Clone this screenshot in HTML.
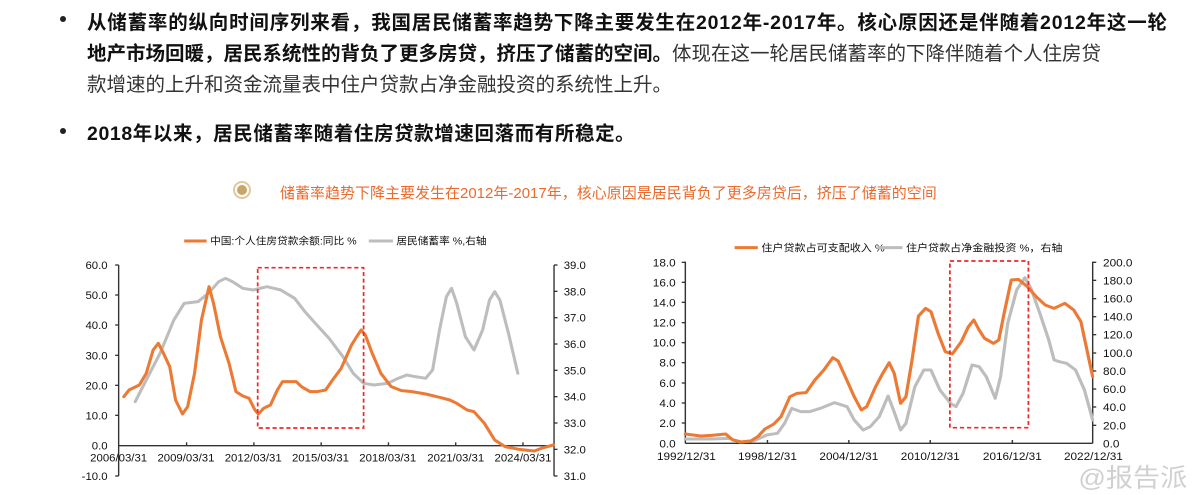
<!DOCTYPE html>
<html><head><meta charset="utf-8"><style>
body{margin:0;width:1200px;height:495px;background:#fff;overflow:hidden;position:relative;font-family:"Liberation Sans","Noto Sans CJK SC",sans-serif;}
.t{position:absolute;white-space:nowrap;font-size:19.5px;color:#111;}
.b{font-weight:bold;}
.dot{position:absolute;left:60px;width:6px;height:6px;border-radius:50%;background:#222;}
</style></head><body>
<div class="dot" style="top:16px"></div>
<div class="t b" style="left:87px;top:6px;letter-spacing:0.8px">从储蓄率的纵向时间序列来看，我国居民储蓄率趋势下降主要发生在2012年-2017年。核心原因还是伴随着2012年这一轮</div>
<div class="t" style="left:87px;top:37px"><b>地产市场回暖，居民系统性的背负了更多房贷，挤压了储蓄的空间。</b><span style="color:#333">体现在这一轮居民储蓄率的下降伴随着个人住房贷</span></div>
<div class="t" style="left:87px;top:68px;color:#333">款增速的上升和资金流量表中住户贷款占净金融投资的系统性上升。</div>
<div class="dot" style="top:128px"></div>
<div class="t b" style="left:87px;top:117px;letter-spacing:0.6px">2018年以来，居民储蓄率随着住房贷款增速回落而有所稳定。</div>
<div style="position:absolute;left:233px;top:181px;width:18px;height:18px;border-radius:50%;border:2px solid #e3c89a;box-sizing:border-box"></div>
<div style="position:absolute;left:237px;top:185px;width:10px;height:10px;border-radius:50%;background:#c9a56a"></div>
<div class="t" style="left:280px;top:182px;font-size:15px;color:#ec6a2c">储蓄率趋势下降主要发生在2012年-2017年，核心原因是居民背负了更多房贷后，挤压了储蓄的空间</div>

<svg width="1200" height="495" style="position:absolute;left:0;top:0" font-family="Liberation Sans, Noto Sans CJK SC, sans-serif">
<g transform="translate(60,220) scale(0.345,0.33333)" font-size="33" fill="#111">
 <line x1="170" y1="135" x2="170" y2="768" stroke="#333" stroke-width="4"/>
 <line x1="1432" y1="135" x2="1432" y2="768" stroke="#333" stroke-width="4"/>
 <line x1="170" y1="677" x2="1432" y2="677" stroke="#333" stroke-width="4"/>
 <g stroke="#333" stroke-width="4">
  <line x1="160" y1="135" x2="170" y2="135"/><line x1="160" y1="225" x2="170" y2="225"/><line x1="160" y1="315" x2="170" y2="315"/><line x1="160" y1="406" x2="170" y2="406"/><line x1="160" y1="496" x2="170" y2="496"/><line x1="160" y1="586" x2="170" y2="586"/><line x1="160" y1="768" x2="170" y2="768"/>
  <line x1="1432" y1="135" x2="1442" y2="135"/><line x1="1432" y1="214" x2="1442" y2="214"/><line x1="1432" y1="293" x2="1442" y2="293"/><line x1="1432" y1="372" x2="1442" y2="372"/><line x1="1432" y1="451" x2="1442" y2="451"/><line x1="1432" y1="530" x2="1442" y2="530"/><line x1="1432" y1="609" x2="1442" y2="609"/><line x1="1432" y1="688" x2="1442" y2="688"/><line x1="1432" y1="768" x2="1442" y2="768"/>
  <line x1="367" y1="667" x2="367" y2="677"/><line x1="562" y1="667" x2="562" y2="677"/><line x1="757" y1="667" x2="757" y2="677"/><line x1="952" y1="667" x2="952" y2="677"/><line x1="1147" y1="667" x2="1147" y2="677"/><line x1="1342" y1="667" x2="1342" y2="677"/>
 </g>
 <g text-anchor="end">
  <text x="138" y="147">60.0</text><text x="138" y="237">50.0</text><text x="138" y="327">40.0</text><text x="138" y="418">30.0</text><text x="138" y="508">20.0</text><text x="138" y="598">10.0</text><text x="138" y="689">0.0</text><text x="138" y="780">-10.0</text>
 </g>
 <g>
  <text x="1460" y="147">39.0</text><text x="1460" y="226">38.0</text><text x="1460" y="305">37.0</text><text x="1460" y="384">36.0</text><text x="1460" y="463">35.0</text><text x="1460" y="542">34.0</text><text x="1460" y="621">33.0</text><text x="1460" y="700">32.0</text><text x="1460" y="780">31.0</text>
 </g>
 <g text-anchor="middle">
  <text x="170" y="725">2006/03/31</text><text x="365" y="725">2009/03/31</text><text x="560" y="725">2012/03/31</text><text x="755" y="725">2015/03/31</text><text x="950" y="725">2018/03/31</text><text x="1147" y="725">2021/03/31</text><text x="1342" y="725">2024/03/31</text>
 </g>
 <line x1="360" y1="63" x2="425" y2="63" stroke="#ec7a35" stroke-width="9"/>
 <text x="435" y="74" font-size="31">中国:个人住房贷款余额:同比 %</text>
 <line x1="895" y1="63" x2="965" y2="63" stroke="#bdbdbd" stroke-width="9"/>
 <text x="975" y="74" font-size="31">居民储蓄率 %,右轴</text>
 <polyline fill="none" stroke="#bdbdbd" stroke-width="9" stroke-linejoin="round" stroke-linecap="round" points="218,545 250,480 290,400 330,300 360,250 400,245 430,220 460,185 480,175 500,185 530,205 560,210 600,200 640,210 680,235 710,275 740,310 780,355 820,410 850,460 880,490 910,495 950,490 980,475 1005,465 1030,470 1060,475 1080,450 1100,330 1120,230 1135,205 1150,250 1175,350 1200,390 1225,330 1245,240 1260,215 1275,240 1300,340 1327,460"/>
 <polyline fill="none" stroke="#ec7a35" stroke-width="9" stroke-linejoin="round" stroke-linecap="round" points="185,530 200,510 230,495 250,460 270,390 285,370 300,400 318,440 335,540 355,582 370,560 390,460 410,300 432,200 445,250 465,350 490,430 510,515 530,528 548,535 565,570 575,582 590,565 610,555 630,510 645,485 660,485 685,485 700,500 725,515 745,515 770,510 790,480 815,445 830,410 845,375 860,350 873,330 885,345 905,400 930,460 960,500 990,512 1020,515 1060,522 1100,532 1130,540 1150,550 1180,570 1200,575 1230,610 1260,660 1290,680 1330,688 1375,693 1395,685 1430,675"/>
 <rect x="573" y="143" width="307" height="481" fill="none" stroke="#ee2a2a" stroke-width="5" stroke-dasharray="12,8"/>
</g>

<g transform="translate(640,230) scale(0.357,0.33333)" font-size="33" fill="#111">
 <line x1="127" y1="95" x2="127" y2="640" stroke="#333" stroke-width="4"/>
 <line x1="1268" y1="95" x2="1268" y2="640" stroke="#333" stroke-width="4"/>
 <line x1="127" y1="640" x2="1268" y2="640" stroke="#333" stroke-width="4"/>
 <g stroke="#333" stroke-width="4">
  <line x1="117" y1="97" x2="127" y2="97"/><line x1="117" y1="157" x2="127" y2="157"/><line x1="117" y1="217" x2="127" y2="217"/><line x1="117" y1="278" x2="127" y2="278"/><line x1="117" y1="338" x2="127" y2="338"/><line x1="117" y1="398" x2="127" y2="398"/><line x1="117" y1="459" x2="127" y2="459"/><line x1="117" y1="519" x2="127" y2="519"/><line x1="117" y1="579" x2="127" y2="579"/>
  <line x1="1268" y1="97" x2="1278" y2="97"/><line x1="1268" y1="151" x2="1278" y2="151"/><line x1="1268" y1="206" x2="1278" y2="206"/><line x1="1268" y1="260" x2="1278" y2="260"/><line x1="1268" y1="314" x2="1278" y2="314"/><line x1="1268" y1="369" x2="1278" y2="369"/><line x1="1268" y1="423" x2="1278" y2="423"/><line x1="1268" y1="477" x2="1278" y2="477"/><line x1="1268" y1="531" x2="1278" y2="531"/><line x1="1268" y1="586" x2="1278" y2="586"/>
  <line x1="357" y1="630" x2="357" y2="640"/><line x1="585" y1="630" x2="585" y2="640"/><line x1="813" y1="630" x2="813" y2="640"/><line x1="1043" y1="630" x2="1043" y2="640"/>
 </g>
 <g text-anchor="end">
  <text x="100" y="109">18.0</text><text x="100" y="169">16.0</text><text x="100" y="229">14.0</text><text x="100" y="290">12.0</text><text x="100" y="350">10.0</text><text x="100" y="410">8.0</text><text x="100" y="471">6.0</text><text x="100" y="531">4.0</text><text x="100" y="591">2.0</text><text x="100" y="652">0.0</text>
 </g>
 <g>
  <text x="1297" y="109">200.0</text><text x="1297" y="163">180.0</text><text x="1297" y="218">160.0</text><text x="1297" y="272">140.0</text><text x="1297" y="326">120.0</text><text x="1297" y="381">100.0</text><text x="1297" y="435">80.0</text><text x="1297" y="489">60.0</text><text x="1297" y="543">40.0</text><text x="1297" y="598">20.0</text><text x="1297" y="652">0.0</text>
 </g>
 <g text-anchor="middle">
  <text x="130" y="690">1992/12/31</text><text x="357" y="690">1998/12/31</text><text x="585" y="690">2004/12/31</text><text x="813" y="690">2010/12/31</text><text x="1043" y="690">2016/12/31</text><text x="1270" y="690">2022/12/31</text>
 </g>
 <line x1="265" y1="53" x2="330" y2="53" stroke="#ec7a35" stroke-width="9"/>
 <text x="340" y="64" font-size="31">住户贷款占可支配收入 %</text>
 <line x1="665" y1="53" x2="735" y2="53" stroke="#bdbdbd" stroke-width="9"/>
 <text x="745" y="64" font-size="31">住户贷款占净金融投资 %，右轴</text>
 <polyline fill="none" stroke="#bdbdbd" stroke-width="9" stroke-linejoin="round" stroke-linecap="round" points="127,627 200,627 250,625 280,636 320,632 355,615 385,610 405,580 425,535 450,545 475,545 505,535 545,518 580,530 600,570 625,600 645,590 670,560 695,498 710,540 730,600 745,580 770,470 795,420 815,420 840,480 870,520 885,530 905,490 930,405 950,410 970,440 995,505 1010,440 1030,280 1055,180 1078,143 1095,175 1120,250 1145,330 1160,390 1175,395 1195,400 1220,420 1245,480 1268,570"/>
 <polyline fill="none" stroke="#ec7a35" stroke-width="9" stroke-linejoin="round" stroke-linecap="round" points="127,612 170,618 200,616 240,612 260,630 285,636 310,633 330,620 350,597 375,582 395,560 420,500 440,490 465,488 490,450 515,420 540,383 555,393 575,440 600,500 620,540 635,530 660,470 680,430 698,398 712,430 730,520 745,500 762,390 780,258 800,235 815,245 835,310 855,365 875,372 900,335 920,290 935,270 950,300 965,325 990,340 1005,330 1020,250 1040,150 1060,148 1085,170 1110,200 1135,225 1160,235 1190,220 1215,240 1235,275 1250,350 1268,440"/>
 <rect x="868" y="93" width="220" height="500" fill="none" stroke="#ee2a2a" stroke-width="5" stroke-dasharray="12,8"/>
 <text x="1228" y="770" font-size="76" fill="#d0d0d0">@报告派</text>
</g>
</svg>
</body></html>
